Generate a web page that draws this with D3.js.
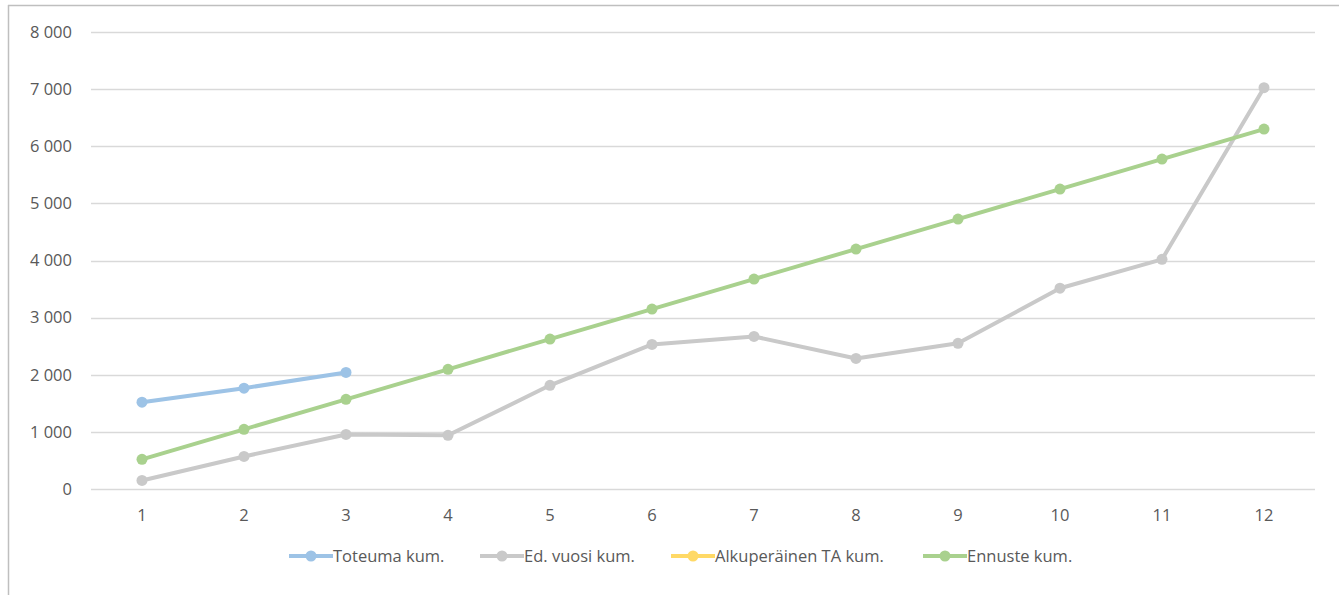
<!DOCTYPE html>
<html><head><meta charset="utf-8">
<script src="https://cdn.jsdelivr.net/npm/d3@7"></script>
<style>body{margin:0;background:#fff;}svg{display:block;font-family:"Open Sans",sans-serif;}</style>
</head><body><svg id="c" width="1339" height="595"></svg>
<script>
const months = [1,2,3,4,5,6,7,8,9,10,11,12];
const yTicks = [0,1000,2000,3000,4000,5000,6000,7000,8000];
const toteuma = [1520,1765,2040];
const edVuosi = [150,570,955,940,1815,2530,2670,2285,2550,3515,4020,7025];
const alkuperainen = [];
const ennuste = [520,1045,1570,2095,2625,3150,3675,4200,4725,5250,5775,6300];
const seriesNames = ["Toteuma kum.","Ed. vuosi kum.","Alkuperäinen TA kum.","Ennuste kum."];
const seriesColors = ["#9dc3e6","#c9c9c9","#ffd966","#a9d18e"];
const seriesData = [toteuma, edVuosi, alkuperainen, ennuste];

const svg = d3.select("#c");
// frame
svg.append("line").attr("x1",8.5).attr("x2",8.5).attr("y1",5).attr("y2",595).attr("stroke","#bfbfbf").attr("stroke-width",1.5);
svg.append("line").attr("x1",8).attr("x2",1339).attr("y1",5.5).attr("y2",5.5).attr("stroke","#bfbfbf").attr("stroke-width",1.5);

const x = d3.scaleBand().domain(months).range([91,1315]);
const y = d3.scaleLinear().domain([0,8000]).range([489,32]);
const fmt = v => d3.format(",")(v).replace(/,/g," ");
const FS = "16.5px";

const yAxis = d3.axisLeft(y).tickValues(yTicks).tickSize(0).tickPadding(19).tickFormat(fmt);
const gy = svg.append("g").attr("transform","translate(91,0)").call(yAxis);
gy.select(".domain").remove();
gy.selectAll("text").attr("fill","#595959").style("font-size",FS).style("font-family","'Open Sans',sans-serif");

svg.append("g").selectAll("line").data(yTicks).join("line")
  .attr("x1",91).attr("x2",1315).attr("y1",d=>Math.round(y(d))+0.5).attr("y2",d=>Math.round(y(d))+0.5)
  .attr("stroke","#d9d9d9").attr("stroke-width",1.3);

const xAxis = d3.axisBottom(x).tickSize(0).tickPadding(20);
const gx = svg.append("g").attr("transform","translate(0,489)").call(xAxis);
gx.select(".domain").remove();
gx.selectAll("text").attr("fill","#595959").style("font-size",FS).style("font-family","'Open Sans',sans-serif");

const cx = i => x(months[i]) + x.bandwidth()/2;
const line = d3.line().x((d,i)=>cx(i)).y(d=>y(d));
seriesData.forEach((data,k)=>{
  if(!data.length) return;
  const g = svg.append("g");
  g.append("path").datum(data).attr("d",line).attr("fill","none").attr("stroke",seriesColors[k]).attr("stroke-width",4).attr("stroke-linejoin","round");
  g.selectAll("circle").data(data).join("circle").attr("cx",(d,i)=>cx(i)).attr("cy",d=>y(d)).attr("r",5.5).attr("fill",seriesColors[k]);
});

// legend
const legX = [289,480,671,923];
const lg = svg.append("g");
seriesNames.forEach((n,k)=>{
  const g = lg.append("g").attr("transform",`translate(${legX[k]},556)`);
  g.append("line").attr("x1",0).attr("x2",44).attr("y1",0).attr("y2",0).attr("stroke",seriesColors[k]).attr("stroke-width",4);
  g.append("circle").attr("cx",22).attr("cy",0).attr("r",5.5).attr("fill",seriesColors[k]);
  g.append("text").attr("x",44).attr("y",0).attr("dy","0.35em").attr("fill","#595959").style("font-size",FS).text(n);
});
</script></body></html>
